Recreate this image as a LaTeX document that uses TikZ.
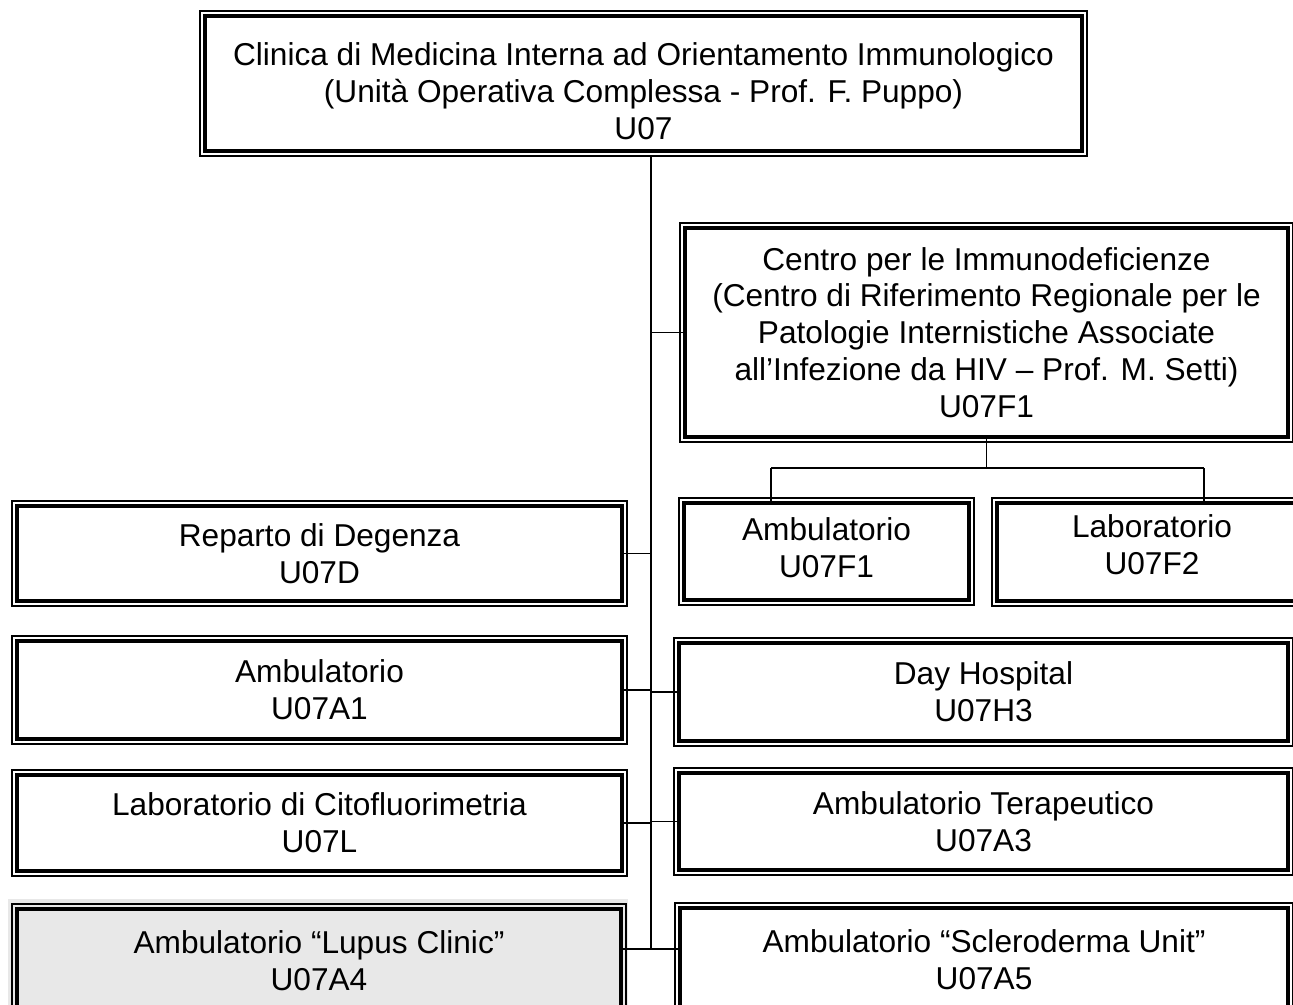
\documentclass[tikz,border=0pt]{standalone}
\usepackage{fontspec}
\setmainfont{Liberation Sans}
\usetikzlibrary{calc,backgrounds}
\definecolor{ink}{HTML}{000000}
\definecolor{lupusfill}{HTML}{E8E8E8}
\newcommand{\padtop}[1]{\rule{0pt}{#1}}
\newcommand{\padbot}[1]{\rule[-#1]{0pt}{0pt}}
\tikzset{
  unitbox/.style 2 args={draw=ink,line width=2.3pt,outer sep=0pt,inner sep=0pt,align=center,
    minimum width=#1*0.02cm,minimum height=#2*0.02cm,text=ink},
  rim/.style={draw=ink,line width=0.6pt},
  link/.style={draw=ink,line width=0.8pt},
}

\begin{document}
\begin{tikzpicture}[x=0.02cm,y=-0.02cm,font=\fontsize{18}{21}\selectfont]
  \path[use as bounding box,clip] (0,0) rectangle (1293,1004);
  % head of the clinic
  \node[unitbox={877}{135}] (top) at (643.5,83.5)
    {\padtop{22pt}Clinica di Medicina Interna ad Orientamento Immunologico\\(Unità Operativa Complessa - Prof. F. Puppo)\\U07};
  % immunodeficiency centre and its units
  \node[unitbox={603}{209}] (centro) at (986.5,332.5)
    {Centro per le Immunodeficienze\\(Centro di Riferimento Regionale per le\\Patologie Internistiche Associate\\all’Infezione da HIV – Prof. M. Setti)\\U07F1};
  \node[unitbox={285}{97}] (ambF1) at (826.5,551.5) {Ambulatorio\\U07F1\padbot{4.6pt}};
  \node[unitbox={310}{98}] (labF2) at (1152,552) {Laboratorio\\U07F2\padbot{9pt}};
  % left column
  \node[unitbox={605}{95}] (reparto) at (319.5,553.5) {Reparto di Degenza\\U07D};
  \node[unitbox={605}{98}] (ambA1) at (319.5,690) {Ambulatorio\\U07A1};
  \node[unitbox={605}{96}] (cito) at (319.5,823) {Laboratorio di Citofluorimetria\\U07L};
  \node[unitbox={604}{103},fill=lupusfill] (lupus) at (319,960.5) {Ambulatorio “Lupus Clinic”\\U07A4};
  % right column
  \node[unitbox={609}{98}] (day) at (983.5,692) {Day Hospital\\U07H3};
  \node[unitbox={609}{97}] (terap) at (983.5,821.5) {Ambulatorio Terapeutico\\U07A3};
  \node[unitbox={608}{104}] (sclero) at (984,960) {Ambulatorio “Scleroderma Unit”\\U07A5};

  \begin{pgfonlayer}{background}
    \fill[lupusfill] ([shift={(-9,-10)}]lupus.north west) rectangle ([shift={(7,9)}]lupus.south east);
  \end{pgfonlayer}
  \foreach \n in {top,centro,ambF1,labF2,reparto,ambA1,cito,lupus,day,terap,sclero}
    \draw[rim] ([shift={(-5,-5)}]\n.north west) rectangle ([shift={(5,5)}]\n.south east);

  % connectors
  \coordinate (spine) at (651,156);
  \coordinate (spineend) at (651,949);
  \draw[link] (spine) -- (spineend);
  \foreach \n in {centro,day,terap}
    \draw[link] (spine |- \n.west) -- (\n.west);
  \foreach \n in {reparto,ambA1,cito}
    \draw[link] (spine |- \n.east) -- (\n.east);
  \draw[link] (spineend -| lupus.east) -- (spineend -| sclero.west);
  \coordinate (forkL) at (771,468);
  \coordinate (forkR) at (1204,468);
  \draw[link] (centro.south) -- (centro.south |- forkL);
  \draw[link] (forkL) -- (forkR);
  \draw[link] (forkL) -- (forkL |- ambF1.north);
  \draw[link] (forkR) -- (forkR |- labF2.north);
\end{tikzpicture}
\end{document}
